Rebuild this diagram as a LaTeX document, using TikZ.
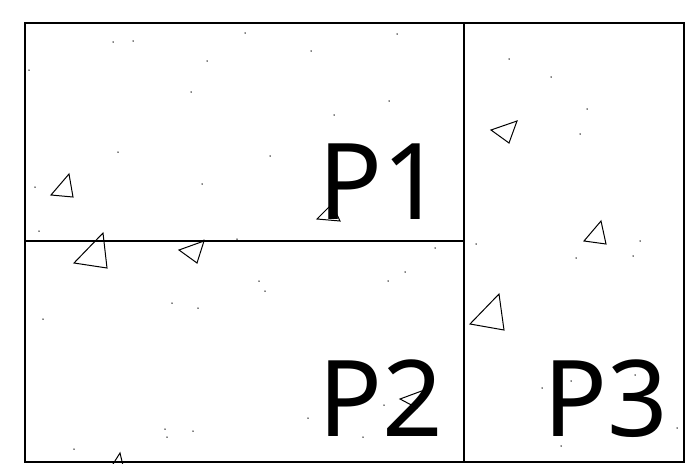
\documentclass[tikz,border=0pt]{standalone}
\usepackage{fontspec}
\setmainfont{Noto Sans}
\usepackage{tikz}

\begin{document}
\begin{tikzpicture}[
  x=1pt, y=-1pt,
  part/.style={draw=black, line width=1.6pt},
  tri/.style={draw=black, line width=1pt, line join=miter},
  pt/.style={fill=black},
  plab/.style={anchor=base west, inner sep=0pt, font=\fontsize{106}{106}\selectfont},
]
\useasboundingbox (0,0) rectangle (692,463);
\clip (0,0) rectangle (692,463);
% frame corners and split points
\coordinate (tl) at (25,23);
\coordinate (br) at (684,462);
\coordinate (vtop) at (464,23);
\coordinate (vbot) at (464,462);
\coordinate (hl) at (25,241);
\coordinate (hr) at (464,241);
% scattered points
\foreach \px/\py in {113/42, 133/41, 207/61, 29/70, 191/92, 118/152,
    245/33, 397/34, 311/51, 389/101, 334/115, 270/156,
    509/59, 551/77, 587/109, 580/134,
    35/187, 202/184, 39/231, 204/240, 237/239,
    172/303, 198/308, 435/248, 405/272, 388/281, 259/281, 265/291,
    476/244, 640/241, 633/256, 576/258,
    43/319, 165/429, 167/437, 193/431, 74/449,
    308/418, 363/437, 384/405,
    542/388, 571/381, 635/375, 677/428, 561/446}
  \fill[pt] (\px,\py) circle (0.75pt);
% triangles
\draw[tri] (491,130) -- (517,121) -- (509,143) -- cycle;
\draw[tri] (69,174) -- (51,195) -- (73,197) -- cycle;
\draw[tri] (103,233) -- (74,263) -- (107,268) -- cycle;
\draw[tri] (179,250) -- (204,241) -- (197,263) -- cycle;
\draw[tri] (317,219) -- (332,204) -- (340,221) -- cycle;
\draw[tri] (584,241) -- (601,221) -- (606,244) -- cycle;
\draw[tri] (499,294) -- (470,324) -- (504,330) -- cycle;
\draw[tri] (400,399) -- (427,389) -- (417,408) -- cycle;
\draw[tri] (120,453) -- (108,472) -- (125,474) -- cycle;
% partition
\draw[part] (tl) rectangle (br);
\draw[part] (vtop) -- (vbot);
\draw[part] (hl) -- (hr);
% region labels
\node[plab] (p1) at (318,219) {P1};
\node[plab] (p2) at (318,436) {P2};
\node[plab] (p3) at (543,436) {P3};
\end{tikzpicture}
\end{document}
